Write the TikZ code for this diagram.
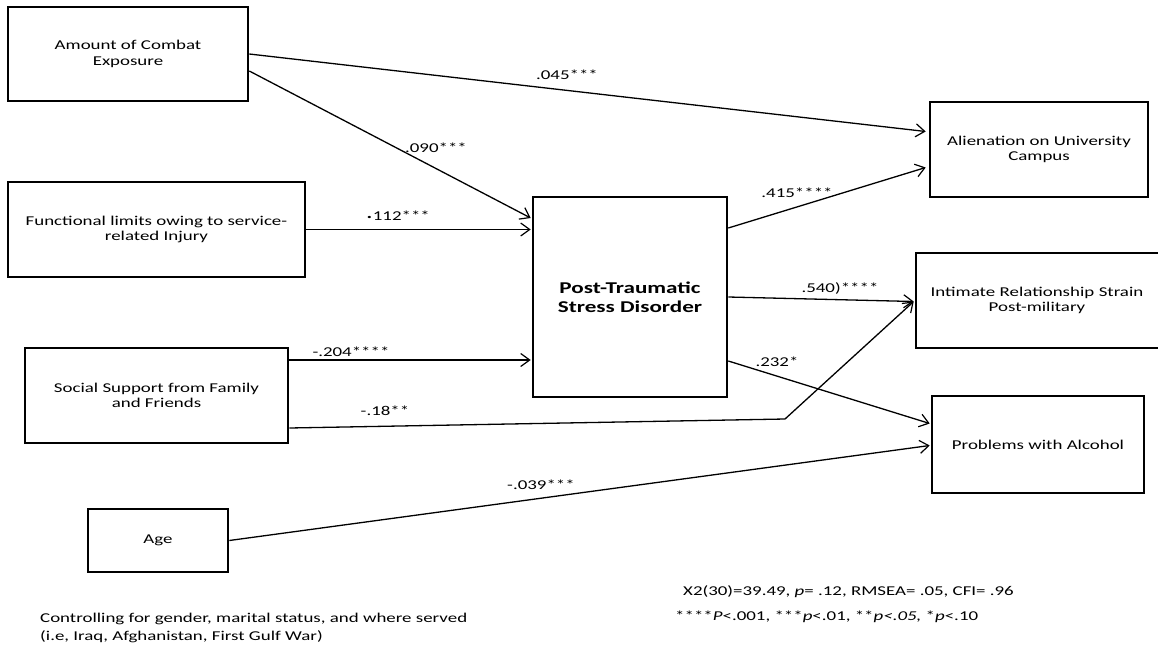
\documentclass[tikz,border=0pt]{standalone}
\usepackage{fontspec}
\setmainfont{Carlito}[FakeStretch=1.4]
\usetikzlibrary{arrows.meta,calc}
\begin{document}
\begin{tikzpicture}[x=1pt,y=-1pt,
  box/.style={draw, line width=2.6pt, align=center, inner sep=0pt,
    font=\fontsize{13.5}{15.5}\selectfont},
  path/.style={line width=1.3pt, -{Straight Barb[length=9pt,width=13pt,line width=1.2pt]}},
  coef/.style={font=\fontsize{13.5}{16}\selectfont, inner sep=0pt},
  note/.style={font=\fontsize{13.5}{18}\selectfont, inner sep=0pt, anchor=west, align=left}]
\useasboundingbox (0,0) rectangle (1158,645);

% exogenous variables
\node[box, minimum width=240pt, minimum height=94pt] (combat) at (128,54)
  {Amount of Combat\\Exposure};
\node[box, minimum width=297pt, minimum height=95pt] (func) at (156.5,229.5)
  {Functional limits owing to service-\\related Injury};
\node[box, minimum width=263pt, minimum height=95pt] (social) at (156.5,395.5)
  {Social Support from Family\\and Friends};
\node[box, minimum width=140pt, minimum height=63pt] (age) at (158,540.5) {Age};

% mediator
\node[box, minimum width=194pt, minimum height=200pt,
  font=\fontsize{16.5}{19}\selectfont\bfseries] (ptsd) at (630,297)
  {Post-Traumatic\\Stress Disorder};

% outcomes
\node[box, minimum width=218pt, minimum height=95pt] (alien) at (1039,149.5)
  {Alienation on University\\Campus};
\node[box, minimum width=250pt, minimum height=95pt, text width=242pt] (intim) at (1041,300.5)
  {\hspace*{-8pt}Intimate Relationship Strain\\\hspace*{-8pt}Post-military};
\node[box, minimum width=212pt, minimum height=97pt] (alco) at (1038,444.5)
  {Problems with Alcohol};

\coordinate (bend) at (785,419);

% paths
\draw[path] (combat.east) -- ($(alien.west)+(-3,-18)$);
\draw[path] ($(combat.east)+(0,17)$) -- ($(ptsd.west)+(-1,-79)$);
\draw[path] (func.east) -- ($(ptsd.west)+(-1,-67.5)$);
\draw[path] ($(social.east)+(0,-35.5)$) -- ($(ptsd.west)+(-1,63)$);
\draw[path] ($(social.east)+(0,32.5)$) -- (bend) -- ($(intim.west)+(-1,1)$);
\draw[path] ($(ptsd.east)+(0,-69)$) -- ($(alien.west)+(-3,18)$);
\draw[path] (ptsd.east) -- ($(intim.west)+(-1,1)$);
\draw[path] ($(ptsd.east)+(0,64)$) -- ($(alco.west)+(-1,-21)$);
\draw[path] (age.east) -- ($(alco.west)+(-1,1)$);

% coefficients
\node[coef] (c1) at (567,75) {.045***};
\node[coef] (c2) at (436,148) {.090***};
\node[coef] (c3) at (398,216) {\raisebox{0.28ex}{\scalebox{1.4}{.}}112***};
\node[coef] (c4) at (351,352) {-.204****};
\node[coef] (c5) at (385,411) {-.18**};
\node[coef] (c6) at (797,193) {.415****};
\node[coef] (c7) at (840,288) {.540)****};
\node[coef] (c8) at (777,362) {.232*};
\node[coef] (c9) at (541,485) {-.039***};

% notes
\node[note] (fit) at (683,592) {X2(30)=39.49, \textit{p}= .12, RMSEA= .05, CFI= .96};
\node[note] (sig) at (675,617) {****\textit{P}<.001, ***\textit{p}<.01, **\textit{p<.05,} *\textit{p}<.10};
\node[note] (ctrl) at (40,628)
  {Controlling for gender, marital status, and where served\\(i.e, Iraq, Afghanistan, First Gulf War)};
\end{tikzpicture}
\end{document}
